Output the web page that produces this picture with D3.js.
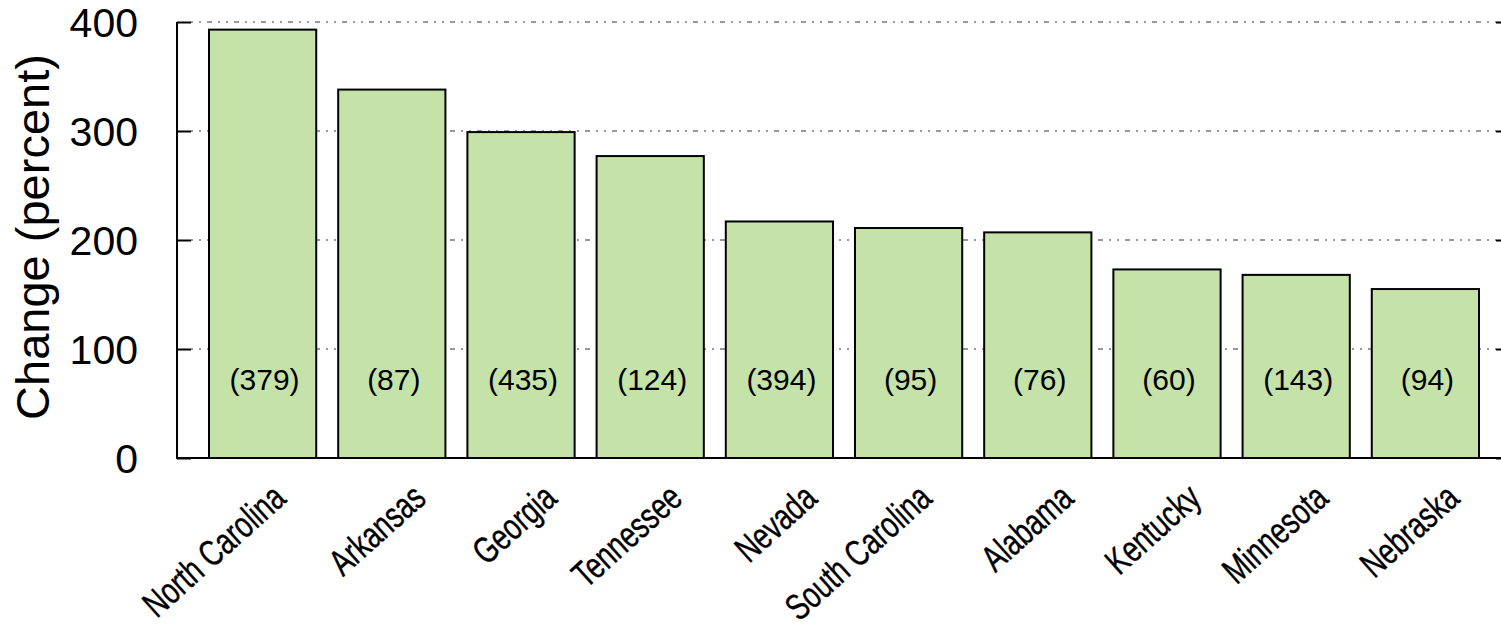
<!DOCTYPE html>
<html>
<head>
<meta charset="utf-8">
<script src="https://cdn.jsdelivr.net/npm/d3@7"></script>
<style>
  html, body { margin: 0; padding: 0; background: #fff; }
  svg { display: block; }
  text { font-family: "Liberation Sans", Arial, sans-serif; fill: #000; }
</style>
</head>
<body>
<svg id="chart" width="1501" height="629"></svg>
<script>
const states = ["North Carolina", "Arkansas", "Georgia", "Tennessee", "Nevada",
                "South Carolina", "Alabama", "Kentucky", "Minnesota", "Nebraska"];
const changePct = [393, 338, 299, 277, 217, 211, 207, 173, 168, 155];
const counts = [379, 87, 435, 124, 394, 95, 76, 60, 143, 94];
const yTicks = [0, 100, 200, 300, 400];
const yLabel = "Change (percent)";

(function () {
const svg = d3.select("#chart");
const pLeft = 177, pRight = 1510, pTop = 22, pBottom = 458;

const x = d3.scaleBand().domain(states).range([209, 1479]).paddingInner(0.17).paddingOuter(0);
const y = d3.scaleLinear().domain([0, 400]).range([pBottom, pTop]);

// gridlines
svg.append("g").selectAll("line").data(yTicks.filter(d => d > 0)).join("line")
  .attr("x1", pLeft + 14).attr("x2", pRight - 14)
  .attr("y1", d => y(d)).attr("y2", d => y(d))
  .attr("stroke", "#9a9a9a").attr("stroke-width", 2)
  .attr("stroke-dasharray", "2,6,2,6,5,6");

// bars
svg.append("g").selectAll("rect").data(states).join("rect")
  .attr("x", d => x(d)).attr("width", x.bandwidth())
  .attr("y", (d, i) => y(changePct[i])).attr("height", (d, i) => y(0) - y(changePct[i]))
  .attr("fill", "#c5e3a8").attr("stroke", "#000").attr("stroke-width", 2);

// count labels
svg.append("g").selectAll("text").data(states).join("text")
  .attr("x", d => x(d) + x.bandwidth() / 2 + 2)
  .attr("y", y(0) - 68)
  .attr("text-anchor", "middle")
  .style("font-size", "30px")
  .text((d, i) => "(" + counts[i] + ")");

// axes border
svg.append("line").attr("x1", pLeft).attr("x2", pLeft).attr("y1", pTop).attr("y2", pBottom)
  .attr("stroke", "#000").attr("stroke-width", 2);
svg.append("line").attr("x1", pLeft - 1).attr("x2", pRight).attr("y1", pBottom).attr("y2", pBottom)
  .attr("stroke", "#000").attr("stroke-width", 2);

// left ticks (inward) and right ticks
const yAxisL = d3.axisRight(y).tickValues(yTicks).tickSize(14).tickFormat("");
const gL = svg.append("g").attr("transform", `translate(${pLeft},0)`).call(yAxisL);
gL.select(".domain").remove();
gL.selectAll("line").attr("stroke", "#000").attr("stroke-width", 2);
const yAxisR = d3.axisLeft(y).tickValues(yTicks).tickSize(14).tickFormat("");
const gR = svg.append("g").attr("transform", `translate(${pRight},0)`).call(yAxisR);
gR.select(".domain").remove();
gR.selectAll("line").attr("stroke", "#000").attr("stroke-width", 2);

// tick labels
svg.append("g").selectAll("text").data(yTicks).join("text")
  .attr("x", 138).attr("y", d => y(d))
  .attr("dy", "0.36em")
  .attr("text-anchor", "end")
  .style("font-size", "41px")
  .text(d => d);

// y label
svg.append("text")
  .attr("transform", `translate(49,237) rotate(-90)`)
  .attr("text-anchor", "middle")
  .style("font-size", "47px")
  .text(yLabel);

// x labels: rotated, horizontally condensed
svg.append("g").selectAll("text").data(states).join("text")
  .attr("transform", d => {
    const ex = x(d) + x.bandwidth() / 2 + 36 - (d.length - 8) * 1.8;
    return `translate(${ex},501) rotate(-42) scale(0.74,1)`;
  })
  .attr("text-anchor", "end")
  .style("font-size", "37px")
  .style("stroke", "#000").style("stroke-width", "0.4px")
  .text(d => d);
})();
</script>
</body>
</html>
